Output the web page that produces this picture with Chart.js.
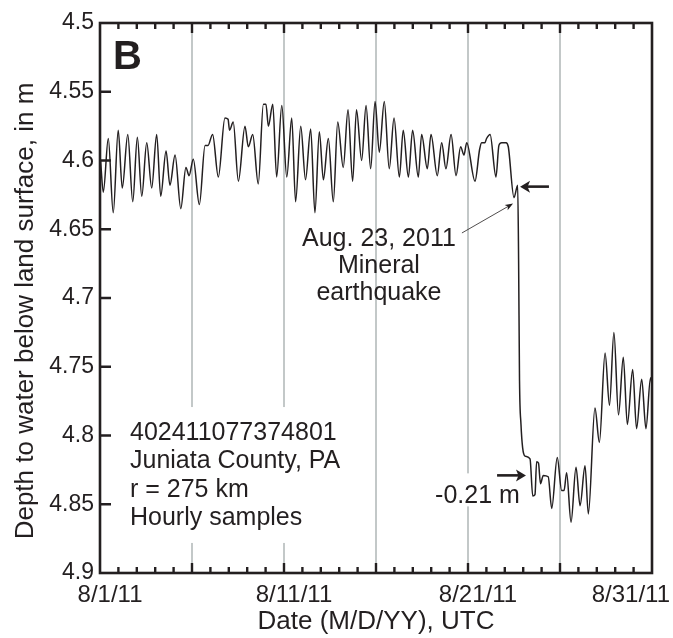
<!DOCTYPE html>
<html>
<head>
<meta charset="utf-8">
<title>402411077374801 - Juniata County, PA</title>
<script src="https://cdn.jsdelivr.net/npm/chart.js@4.4.0/dist/chart.umd.min.js"></script>
<style>
	html, body { margin: 0; padding: 0; background: #fff; }
	canvas { display: block; }
</style>
</head>
<body>
<canvas id="graficoNivel" width="673" height="638"></canvas>
<script>
// days since 8/1/11 00:00 UTC
var sampleDay = [
	0.03, 0.18, 0.45, 0.72, 0.99, 1.21, 1.51, 1.78, 2.03, 2.27,
	2.54, 2.81, 3.08, 3.30, 3.59, 3.80, 4.08, 4.39, 4.67, 4.84,
	5.07, 5.40, 5.71, 5.87, 6.12, 6.43, 6.79, 6.96, 7.04, 7.24,
	7.52, 7.88, 8.06, 8.30, 8.60, 8.88, 9.02, 9.15, 9.39, 9.60,
	9.88, 10.15, 10.42, 10.63, 10.91, 11.17, 11.45, 11.68, 11.92, 12.14,
	12.41, 12.68, 12.92, 13.22, 13.48, 13.73, 13.94, 14.22, 14.46, 14.71,
	14.95, 15.18, 15.45, 15.72, 15.98, 16.27, 16.48, 16.76, 16.99, 17.30,
	17.48, 17.79, 17.99, 18.33, 18.57, 18.80, 19.08, 19.35, 19.60, 19.78,
	19.93, 20.38, 20.63, 20.74, 20.92, 21.01, 21.20, 21.52, 21.68, 21.83,
	22.07, 22.19, 22.50, 22.70, 22.75, 22.80, 22.88, 22.97, 23.10, 23.37,
	23.52, 23.64, 23.73, 23.83, 23.94, 24.09, 24.36, 24.55, 24.85, 25.09,
	25.22, 25.36, 25.60, 25.87, 26.09, 26.36, 26.54, 26.90, 27.14, 27.45,
	27.69, 27.93, 28.18, 28.44, 28.66, 28.95, 29.16, 29.44, 29.67, 29.92,
	30.00
];

// depth to water below land surface, m
var depthM = [
	4.600, 4.623, 4.584, 4.638, 4.578, 4.620, 4.581, 4.630, 4.583, 4.626,
	4.587, 4.620, 4.581, 4.626, 4.593, 4.618, 4.596, 4.635, 4.605, 4.611,
	4.599, 4.632, 4.589, 4.589, 4.581, 4.612, 4.569, 4.570, 4.578, 4.572,
	4.615, 4.575, 4.590, 4.581, 4.617, 4.559, 4.559, 4.575, 4.559, 4.612,
	4.560, 4.612, 4.569, 4.630, 4.575, 4.614, 4.577, 4.638, 4.579, 4.614,
	4.584, 4.630, 4.572, 4.605, 4.563, 4.615, 4.563, 4.600, 4.560, 4.606,
	4.557, 4.594, 4.557, 4.606, 4.569, 4.612, 4.578, 4.612, 4.578, 4.612,
	4.581, 4.606, 4.581, 4.611, 4.587, 4.606, 4.581, 4.611, 4.590, 4.596,
	4.587, 4.615, 4.592, 4.587, 4.587, 4.584, 4.581, 4.612, 4.589, 4.587,
	4.587, 4.590, 4.627, 4.618, 4.672, 4.760, 4.792, 4.809, 4.815, 4.817,
	4.844, 4.843, 4.819, 4.820, 4.835, 4.829, 4.830, 4.853, 4.816, 4.840,
	4.840, 4.827, 4.863, 4.823, 4.851, 4.822, 4.857, 4.780, 4.805, 4.740,
	4.778, 4.725, 4.785, 4.743, 4.792, 4.752, 4.795, 4.759, 4.795, 4.758,
	4.763
];

var xTickDay = [0, 10, 20, 30];
var xTickLabel = ['8/1/11', '8/11/11', '8/21/11', '8/31/11'];
var xGridDay = [5, 10, 15, 20, 25];

var yTickValue = [4.5, 4.55, 4.6, 4.65, 4.7, 4.75, 4.8, 4.85, 4.9];
var yTickLabel = ['4.5', '4.55', '4.6', '4.65', '4.7', '4.75', '4.8', '4.85', '4.9'];

var stationLines = ['402411077374801', 'Juniata County, PA', 'r = 275 km', 'Hourly samples'];
var quakeLines = ['Aug. 23, 2011', 'Mineral', 'earthquake'];

// water level just before and after the step
var preQuakeLevel = 4.619;
var postQuakeLevel = 4.829;

var INK = '#231f20';
var FONTE = '"Liberation Sans", Arial, Helvetica, sans-serif';

function seta(ctx, x0, y0, x1, y1, largura, compr, meia) {
	var ang = Math.atan2(y1 - y0, x1 - x0);
	ctx.save();
	ctx.strokeStyle = INK;
	ctx.fillStyle = INK;
	ctx.lineWidth = largura;
	ctx.beginPath();
	ctx.moveTo(x0, y0);
	ctx.lineTo(x1 - Math.cos(ang) * compr * 0.7, y1 - Math.sin(ang) * compr * 0.7);
	ctx.stroke();
	ctx.translate(x1, y1);
	ctx.rotate(ang);
	ctx.beginPath();
	ctx.moveTo(0, 0);
	ctx.lineTo(-compr, -meia);
	ctx.lineTo(-compr * 0.75, 0);
	ctx.lineTo(-compr, meia);
	ctx.closePath();
	ctx.fill();
	ctx.restore();
}

function deltaText() {
	return (preQuakeLevel - postQuakeLevel).toFixed(2) + ' m';
}

// inward tick marks on the frame
function desenharMarcas(ctx, a, x, y) {
	var d, i, px, py, len;
	ctx.save();
	ctx.strokeStyle = INK;
	ctx.lineWidth = 2.4;
	ctx.lineCap = 'butt';
	ctx.beginPath();
	for (d = 1; d < 30; d++) {
		px = x.getPixelForValue(d);
		len = d % 5 === 0 ? 10 : 6;
		ctx.moveTo(px, a.top);
		ctx.lineTo(px, a.top + len);
		ctx.moveTo(px, a.bottom);
		ctx.lineTo(px, a.bottom - len);
	}
	for (i = 1; i < yTickValue.length - 1; i++) {
		py = y.getPixelForValue(yTickValue[i]);
		ctx.moveTo(a.left, py);
		ctx.lineTo(a.left + 11, py);
	}
	ctx.stroke();
	ctx.lineWidth = 2.6;
	ctx.strokeRect(a.left, a.top, a.right - a.left, a.bottom - a.top);
	ctx.restore();
}

var molduraPlugin = {
	id: 'moldura',

	// white backing behind the text blocks, over the grey grid
	beforeDatasetsDraw: function(chart) {
		var ctx = chart.ctx, x = chart.scales.x, y = chart.scales.y;
		ctx.save();
		ctx.font = '25px ' + FONTE;
		ctx.fillStyle = '#fff';

		var sx = x.getPixelForValue(1.63), sy = y.getPixelForValue(4.8033);
		var w = 0;
		stationLines.forEach(function(t) { w = Math.max(w, ctx.measureText(t).width); });
		ctx.fillRect(sx - 8, sy - 33, w + 14, 28.3 * 3 + 51);

		var dx = x.getPixelForValue(18.21), dy = y.getPixelForValue(postQuakeLevel) + 28;
		var dw = ctx.measureText(deltaText()).width;
		ctx.fillRect(dx - 3, dy - 30, dw + 6, 33);
		ctx.restore();
	},

	afterDraw: function(chart) {
		var ctx = chart.ctx, a = chart.chartArea, x = chart.scales.x, y = chart.scales.y;

		desenharMarcas(ctx, a, x, y);

		ctx.save();
		ctx.fillStyle = INK;

		// panel letter
		ctx.font = 'bold 40px ' + FONTE;
		ctx.textAlign = 'left';
		ctx.textBaseline = 'alphabetic';
		ctx.fillText('B', x.getPixelForValue(0.7), y.getPixelForValue(4.5335));

		ctx.font = '25px ' + FONTE;

		// well information
		var sx = x.getPixelForValue(1.63), sy = y.getPixelForValue(4.8033);
		stationLines.forEach(function(t, k) {
			ctx.fillText(t, sx, sy + k * 28.3);
		});

		// earthquake note
		ctx.textAlign = 'center';
		var qx = x.getPixelForValue(15.16), qy = y.getPixelForValue(4.6622);
		quakeLines.forEach(function(t, k) {
			ctx.fillText(t, qx, qy + k * 27);
		});
		seta(ctx, x.getPixelForValue(19.67), y.getPixelForValue(4.6527),
			x.getPixelForValue(22.45), y.getPixelForValue(4.6313), 0.8, 8, 3);

		// levels before and after the step
		var yPre = y.getPixelForValue(preQuakeLevel);
		seta(ctx, x.getPixelForValue(24.4), yPre, x.getPixelForValue(22.83), yPre, 2.6, 10, 6);
		var yPos = y.getPixelForValue(postQuakeLevel);
		seta(ctx, x.getPixelForValue(21.58), yPos, x.getPixelForValue(23.15), yPos, 2.6, 10, 6);
		ctx.textAlign = 'left';
		ctx.fillText(deltaText(), x.getPixelForValue(18.21), yPos + 28);

		// date labels, nudged right and kept inside the canvas
		ctx.font = '24px ' + FONTE;
		ctx.textAlign = 'center';
		xTickDay.forEach(function(dia, k) {
			var t = xTickLabel[k];
			var tw = ctx.measureText(t).width;
			var cx = Math.min(x.getPixelForValue(dia) + 10, chart.width - 3 - tw / 2);
			ctx.fillText(t, cx, a.bottom + 29);
		});

		// vertical axis title
		ctx.font = '26px ' + FONTE;
		ctx.translate(33, (a.top + a.bottom) / 2 + 13);
		ctx.rotate(-Math.PI / 2);
		ctx.textAlign = 'center';
		ctx.fillText('Depth to water below land surface, in m', 0, 0);

		ctx.restore();
	}
};

var pontos = sampleDay.map(function(d, i) {
	return { x: d, y: depthM[i] };
});

var graficoNivel = new Chart(document.getElementById('graficoNivel').getContext('2d'), {
	type: 'line',
	data: {
		datasets: [{
			data: pontos,
			borderColor: INK,
			borderWidth: 1.5,
			pointRadius: 0,
			cubicInterpolationMode: 'monotone',
			fill: false
		}]
	},
	options: {
		responsive: false,
		animation: false,
		devicePixelRatio: 1,
		events: [],
		layout: { padding: { top: 23, right: 21, left: 0, bottom: 0 } },
		plugins: {
			legend: { display: false },
			tooltip: { enabled: false }
		},
		scales: {
			x: {
				type: 'linear',
				min: 0,
				max: 30,
				afterBuildTicks: function(scale) {
					scale.ticks = xGridDay.map(function(v) { return { value: v }; });
				},
				afterFit: function(scale) { scale.height = 65; },
				ticks: { display: false },
				border: { display: false },
				grid: { color: '#c3c8c8', lineWidth: 2, drawTicks: false },
				title: {
					display: true,
					text: 'Date (M/D/YY), UTC',
					color: INK,
					font: { family: FONTE, size: 26 },
					padding: { top: 0, bottom: 1 }
				}
			},
			y: {
				type: 'linear',
				reverse: true,
				min: 4.5,
				max: 4.9,
				afterBuildTicks: function(scale) {
					scale.ticks = yTickValue.map(function(v) { return { value: v }; });
				},
				afterFit: function(scale) { scale.width = 100; },
				ticks: {
					color: INK,
					padding: 6,
					font: { family: FONTE, size: 23 },
					callback: function(v, i) { return yTickLabel[i]; }
				},
				border: { display: false },
				grid: { display: false, drawTicks: false }
			}
		}
	},
	plugins: [molduraPlugin]
});
</script>
</body>
</html>
